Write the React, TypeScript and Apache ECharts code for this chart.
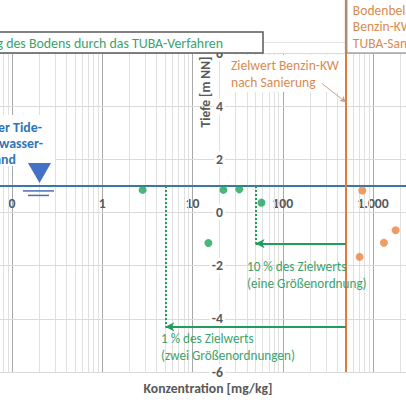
import React, { useEffect, useRef } from "react";
import * as echarts from "echarts";

// ---- data ----
const decades = [0.01, 0.1, 1, 10, 100, 1000];
const minorMultipliers = [2, 3, 4, 5, 6, 7, 8, 9];
const depthMin = -6;
const depthMax = 6;
const depthStep = 2;
const concMin = 0.01;
const concMax = 10000;

const afterConc = [2.8, 22, 33, 58, 15];
const afterDepth = [0.85, 0.85, 0.87, 0.37, -1.15];
const beforeConc = [760, 710, 1320, 1780];
const beforeDepth = [0.83, -1.67, -1.14, -0.67];

const zielwert = 500;
const zehnProzent = 50;
const einProzent = 5;
const arrowDepth10 = -1.17;
const arrowDepth1 = -4.3;
const waterLevel = 1.0;
const pointerFrom = [272, 4.85];
const pointerTo = [500, 4.15];

const FONT = "Carlito, Lato, 'Open Sans', sans-serif";
const GREEN = "#1f9e5c";
const GREEN_TXT = "#3aa36d";
const ORANGE = "#e07b39";
const ORANGE_TXT = "#d98b50";
const BLUE = "#3a76a8";
const BLUE_TXT = "#2e75b6";
const GRAY = "#595959";

// the chart canvas is wider than the visible window; OX = hidden part on the left
const OX = 100;
const CW = 620;

function fmtConc(v: number): string {
  if (v < 1) return "0";
  return String(Math.round(v)).replace(/\B(?=(\d{3})+(?!\d))/g, ".");
}

let ctx: CanvasRenderingContext2D | null = null;
function widthPerPx(text: string, weight = "normal"): number {
  if (!ctx) ctx = document.createElement("canvas").getContext("2d");
  if (!ctx) return 0.5 * text.length;
  ctx.font = `${weight} 100px ${FONT}`;
  return ctx.measureText(text).width / 100;
}
function fit(text: string, target: number, weight = "normal"): number {
  const w = widthPerPx(text, weight);
  const s = w > 0 ? target / w : 14;
  return Math.max(9, Math.min(20, s));
}

export default function App() {
  const ref = useRef<HTMLDivElement>(null);
  useEffect(() => {
    const chart = echarts.init(ref.current!, null, { renderer: "svg" });
    const minorLines: number[] = [];
    decades.forEach((d) => minorMultipliers.forEach((m) => minorLines.push(m * d)));

    const tickSize = fit("1.000", 31.5, "bold");
    const orangeSize = fit("Zielwert Benzin-KW", 108);
    const greenSize = (fit("10 % des Zielwerts", 98) + fit("(zwei Größenordnungen)", 136)) / 2;
    const titleSize = 13.9;
    const xNameSize = fit("Konzentration [mg/kg]", 129, "bold");
    const yNameSize = fit("Tiefe [m NN]", 71, "bold");
    const blueSize = fit("er Tide-", 44, "bold");
    const blueLine1W = widthPerPx("Mittlerer Tide-", "bold") * blueSize;
    const blueCenter = 42 - blueLine1W / 2;

    const empty = (name: string, markLine: any, z = 4) => ({
      type: "scatter",
      name,
      data: [],
      silent: true,
      z,
      markLine: { silent: true, animation: false, z, label: { show: false }, ...markLine },
    });

    chart.setOption({
      animation: false,
      backgroundColor: "#ffffff",
      grid: { left: OX - 78.3, right: CW - (OX + 463.3), top: 53, bottom: 34, containLabel: false },
      xAxis: {
        type: "log",
        logBase: 10,
        min: concMin,
        max: concMax,
        splitNumber: 6,
        position: "bottom",
        offset: -178,
        axisLine: { show: false },
        axisTick: { show: false },
        axisLabel: {
          margin: 2,
          formatter: fmtConc,
          color: GRAY,
          fontWeight: "bold",
          fontSize: tickSize,
          fontFamily: FONT,
        },
        splitLine: { show: true, lineStyle: { color: "#a9a9a9", width: 1 } },
      },
      yAxis: {
        type: "value",
        min: depthMin,
        max: depthMax,
        interval: depthStep,
        offset: -(OX + 230 - (OX - 78.3)),
        z: 3,
        axisLine: { show: false },
        axisTick: { show: false },
        axisLabel: {
          margin: 5,
          color: GRAY,
          fontWeight: "bold",
          fontSize: tickSize,
          fontFamily: FONT,
          backgroundColor: "#ffffff",
          padding: [1, 2],
        },
        splitLine: { show: true, lineStyle: { color: "#dadada", width: 1 } },
      },
      series: [
        empty(
          "minor",
          {
            symbol: ["none", "none"],
            lineStyle: { color: "#e0e0e0", width: 1, type: "solid" },
            data: minorLines.map((v) => ({ xAxis: v })),
          },
          1
        ),
        empty("Wasserstand", {
          symbol: ["none", "none"],
          lineStyle: { color: BLUE, width: 2, type: "solid" },
          data: [{ yAxis: waterLevel }],
        }),
        empty("Zielwert", {
          symbol: ["none", "none"],
          lineStyle: { color: ORANGE, width: 2, type: "solid" },
          data: [{ xAxis: zielwert }],
        }),
        empty("Dotted", {
          symbol: ["none", "none"],
          lineStyle: { color: GREEN, width: 2, type: "dotted" },
          data: [
            [{ coord: [zehnProzent, waterLevel] }, { coord: [zehnProzent, arrowDepth10] }],
            [{ coord: [einProzent, waterLevel] }, { coord: [einProzent, arrowDepth1] }],
          ],
        }),
        empty("Pfeile", {
          symbol: ["none", "arrow"],
          symbolSize: [7, 9],
          lineStyle: { color: GREEN, width: 2, type: "solid" },
          data: [
            [{ coord: [zielwert, arrowDepth10] }, { coord: [zehnProzent, arrowDepth10] }],
            [{ coord: [zielwert, arrowDepth1] }, { coord: [einProzent, arrowDepth1] }],
          ],
        }),
        empty(
          "Zeiger",
          {
            symbol: ["none", "arrow"],
            symbolSize: [5, 6],
            lineStyle: { color: "#c9a385", width: 1, type: "solid" },
            data: [[{ coord: pointerFrom }, { coord: pointerTo }]],
          },
          70
        ),
        {
          type: "scatter",
          name: "nach Sanierung",
          symbolSize: 8,
          itemStyle: { color: "#1ea35a" },
          data: afterConc.map((c, i) => [c, afterDepth[i]]),
          z: 5,
        },
        {
          type: "scatter",
          name: "vor Sanierung",
          symbolSize: 8,
          itemStyle: { color: "#e8843f" },
          data: beforeConc.map((c, i) => [c, beforeDepth[i]]),
          z: 5,
        },
      ],
    });

    const zx = chart.convertToPixel({ xAxisIndex: 0 }, zielwert) as number;
    const topY = chart.convertToPixel({ yAxisIndex: 0 }, depthMax) as number;
    const wy = chart.convertToPixel({ yAxisIndex: 0 }, waterLevel) as number;

    const txt = (text: string, x: number, y: number, fill: string, extra: any = {}) => ({
      type: "text",
      z: 60,
      style: {
        text,
        x: x + OX,
        y,
        fill,
        fontSize: 14,
        fontFamily: FONT,
        textAlign: "left",
        textVerticalAlign: "middle",
        ...extra,
      },
    });
    const rect = (x: number, y: number, w: number, h: number, style: any) => ({
      type: "rect",
      z: 50,
      shape: { x: x + OX, y, width: w, height: h },
      style,
    });

    chart.setOption({
      graphic: [
        // faint frame line above plot
        { type: "line", z: 30, shape: { x1: OX + 263, y1: 42.5, x2: zx, y2: 42.5 }, style: { stroke: "#e4e4e4", lineWidth: 1 } },
        // orange connector above plot
        { type: "line", z: 40, shape: { x1: zx, y1: 0, x2: zx, y2: topY }, style: { stroke: ORANGE, lineWidth: 2 } },
        // title box
        rect(-10, 32, 273, 21, { fill: "#fff", stroke: GRAY, lineWidth: 1.5 }),
        txt("Sanierung des Bodens durch das TUBA-Verfahren", 223, 43, GREEN_TXT, { textAlign: "right", fontSize: titleSize }),
        // right top box
        { type: "rect", z: 50, shape: { x: zx + 1, y: -2, width: 90, height: topY + 2 }, style: { fill: "#fff", stroke: "#7f7f7f", lineWidth: 1 } },
        {
          type: "text",
          z: 60,
          style: {
            text: "Bodenbelastung\nBenzin-KW vor\nTUBA-Sanierung",
            x: zx + 7,
            y: 26.5,
            fill: ORANGE_TXT,
            fontSize: orangeSize,
            fontFamily: FONT,
            textAlign: "left",
            textVerticalAlign: "middle",
            lineHeight: 16.5,
          },
        },
        // Zielwert label
        rect(228, 55, 114, 37, { fill: "#fff" }),
        txt("Zielwert Benzin-KW\nnach Sanierung", 231, 74, ORANGE_TXT, { lineHeight: 16.5, fontSize: orangeSize }),
        // water level label
        rect(-10, 115, 65, 51, { fill: "#fff" }),
        txt("Mittlerer Tide-\nNiedrigwasser-\nstand", blueCenter, 143, BLUE_TXT, {
          textAlign: "center",
          fontWeight: "bold",
          lineHeight: 16,
          fontSize: blueSize,
        }),
        // water level symbol
        { type: "polygon", z: 55, shape: { points: [[OX + 28, wy - 23], [OX + 51, wy - 23], [OX + 39.5, wy - 3]] }, style: { fill: "#4472c4" } },
        { type: "line", z: 55, shape: { x1: OX + 23, y1: wy + 5, x2: OX + 54, y2: wy + 5 }, style: { stroke: "#4a6fb0", lineWidth: 1.5 } },
        { type: "line", z: 55, shape: { x1: OX + 28, y1: wy + 9.5, x2: OX + 49, y2: wy + 9.5 }, style: { stroke: "#4a6fb0", lineWidth: 1.5 } },
        // green annotations
        txt("10 % des Zielwerts\n(eine Größenordnung)", 247, 274.5, GREEN_TXT, { lineHeight: 17, fontSize: greenSize }),
        txt("1 % des Zielwerts\n(zwei Größenordnungen)", 161, 346.5, GREEN_TXT, { lineHeight: 17, fontSize: greenSize }),
        // axis names
        txt("Konzentration [mg/kg]", 208, 388, GRAY, { textAlign: "center", fontWeight: "bold", fontSize: xNameSize }),
        {
          type: "text",
          z: 60,
          x: OX + 205,
          y: 92,
          rotation: Math.PI / 2,
          style: {
            text: "Tiefe [m NN]",
            x: 0,
            y: 0,
            fill: GRAY,
            fontSize: yNameSize,
            fontFamily: FONT,
            fontWeight: "bold",
            textAlign: "center",
            textVerticalAlign: "middle",
          },
        },
      ],
    });

    return () => chart.dispose();
  }, []);
  return (
    <div style={{ position: "fixed", left: 0, top: 0, width: 406, height: 406, overflow: "hidden", background: "#fff" }}>
      <div ref={ref} style={{ position: "absolute", left: -OX, top: 0, width: CW, height: 406 }} />
    </div>
  );
}
